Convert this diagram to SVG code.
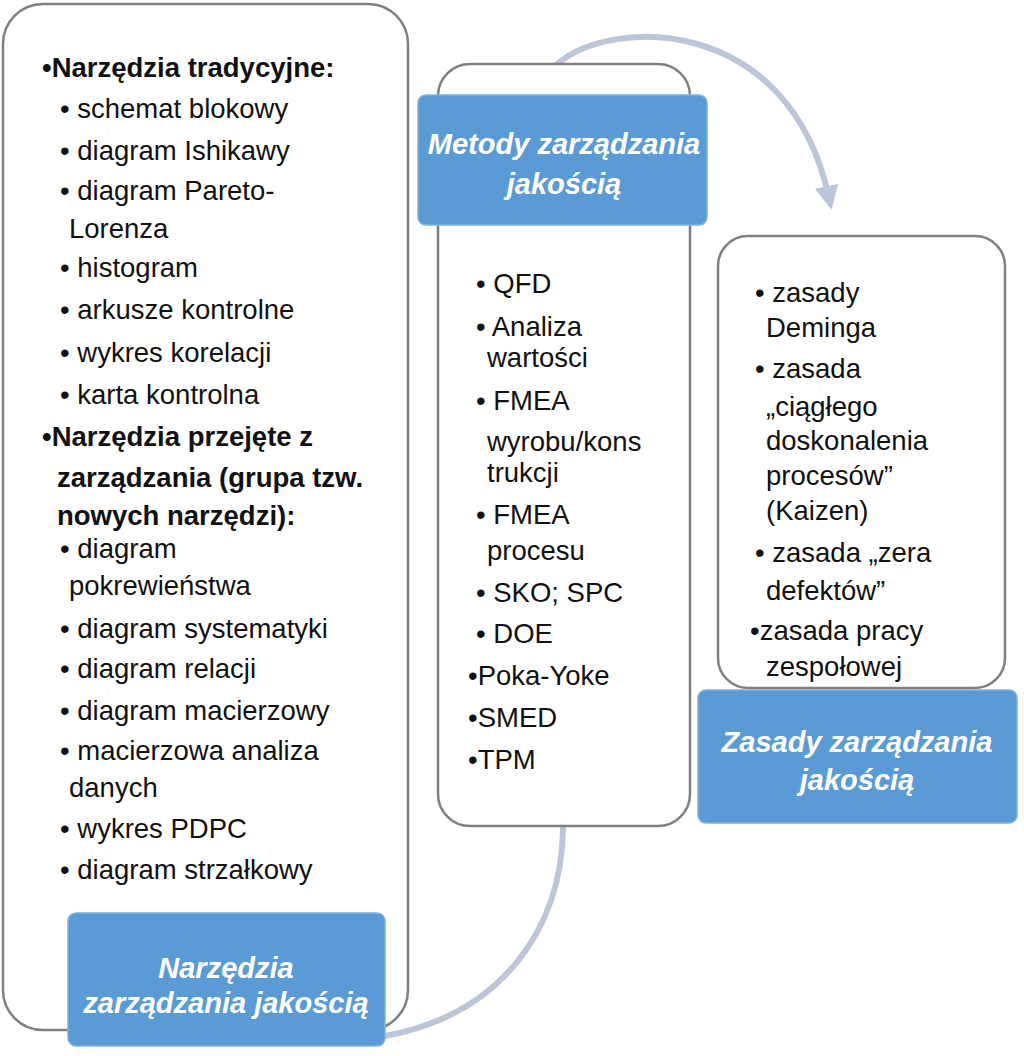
<svg xmlns="http://www.w3.org/2000/svg" width="1024" height="1056" viewBox="0 0 1024 1056">
<defs>
<style>
.frame{fill:#ffffff;stroke:#808080;stroke-width:2.5}
.label{fill:#5b9bd5;stroke:#7fb2e0;stroke-width:1.5}
.lt{font-family:"Liberation Sans",Arial,sans-serif;font-size:29px;font-weight:bold;font-style:italic;fill:#ffffff;text-anchor:middle}
.t{font-family:"Liberation Sans",Arial,sans-serif;font-size:27.5px;fill:#111111}
.b{font-weight:bold}
.conn{fill:none;stroke:#bcc6d8;stroke-width:6;stroke-linecap:round}
</style>
<marker id="ah" viewBox="0 0 10 10" refX="5" refY="5" markerWidth="4" markerHeight="4" orient="auto" markerUnits="strokeWidth">
<path d="M0,0 L10,5 L0,10 z" fill="#bcc6d8"/>
</marker>
</defs>
<rect width="1024" height="1056" fill="#ffffff"/>
<g id="connectors">
<path class="conn" d="M 555 66 C 610 15, 790 15, 829 198" marker-end="url(#ah)"/>
<path class="conn" d="M 385 1036 C 500 1015, 562 930, 563 828"/>
</g>
<g id="node-narzedzia">
<rect class="frame" x="3" y="4" width="405" height="1026" rx="40"/>
<text class="t b" x="42" y="77">•Narzędzia tradycyjne:</text>
<text class="t" x="60" y="118">• schemat blokowy</text>
<text class="t" x="60" y="160">• diagram Ishikawy</text>
<text class="t" x="60" y="200">• diagram Pareto-</text>
<text class="t" x="69" y="238">Lorenza</text>
<text class="t" x="60" y="277">• histogram</text>
<text class="t" x="60" y="319">• arkusze kontrolne</text>
<text class="t" x="60" y="362">• wykres korelacji</text>
<text class="t" x="60" y="404">• karta kontrolna</text>
<text class="t b" x="42" y="446">•Narzędzia przejęte z</text>
<text class="t b" x="57" y="487">zarządzania (grupa tzw.</text>
<text class="t b" x="57" y="525">nowych narzędzi):</text>
<text class="t" x="60" y="558">• diagram</text>
<text class="t" x="69" y="595">pokrewieństwa</text>
<text class="t" x="60" y="638">• diagram systematyki</text>
<text class="t" x="60" y="678">• diagram relacji</text>
<text class="t" x="60" y="720">• diagram macierzowy</text>
<text class="t" x="60" y="760">• macierzowa analiza</text>
<text class="t" x="69" y="797">danych</text>
<text class="t" x="60" y="838">• wykres PDPC</text>
<text class="t" x="60" y="879">• diagram strzałkowy</text>
<rect class="label" x="68" y="913" width="317" height="133" rx="8"/>
<text class="lt" x="226" y="978">Narzędzia</text>
<text class="lt" x="226" y="1013">zarządzania jakością</text>
</g>
<g id="node-metody">
<rect class="frame" x="438" y="64" width="252" height="762" rx="32"/>
<text class="t" x="476" y="293">• QFD</text>
<text class="t" x="476" y="336">• Analiza</text>
<text class="t" x="487" y="367">wartości</text>
<text class="t" x="476" y="410">• FMEA</text>
<text class="t" x="487" y="451">wyrobu/kons</text>
<text class="t" x="487" y="482">trukcji</text>
<text class="t" x="476" y="524">• FMEA</text>
<text class="t" x="487" y="560">procesu</text>
<text class="t" x="476" y="602">• SKO; SPC</text>
<text class="t" x="476" y="643">• DOE</text>
<text class="t" x="468" y="685">•Poka-Yoke</text>
<text class="t" x="468" y="727">•SMED</text>
<text class="t" x="468" y="769">•TPM</text>
<rect class="label" x="418" y="95" width="289" height="130" rx="8"/>
<text class="lt" x="564" y="154">Metody zarządzania</text>
<text class="lt" x="564" y="194">jakością</text>
</g>
<g id="node-zasady">
<rect class="frame" x="718" y="236" width="287" height="452" rx="30"/>
<text class="t" x="755" y="302">• zasady</text>
<text class="t" x="766" y="337">Deminga</text>
<text class="t" x="755" y="378">• zasada</text>
<text class="t" x="766" y="416">„ciągłego</text>
<text class="t" x="766" y="450">doskonalenia</text>
<text class="t" x="766" y="485">procesów”</text>
<text class="t" x="766" y="520">(Kaizen)</text>
<text class="t" x="755" y="562">• zasada „zera</text>
<text class="t" x="766" y="600">defektów”</text>
<text class="t" x="750" y="640">•zasada pracy</text>
<text class="t" x="766" y="676">zespołowej</text>
<rect class="label" x="698" y="690" width="319" height="133" rx="8"/>
<text class="lt" x="857" y="752">Zasady zarządzania</text>
<text class="lt" x="857" y="790">jakością</text>
</g>
</svg>
